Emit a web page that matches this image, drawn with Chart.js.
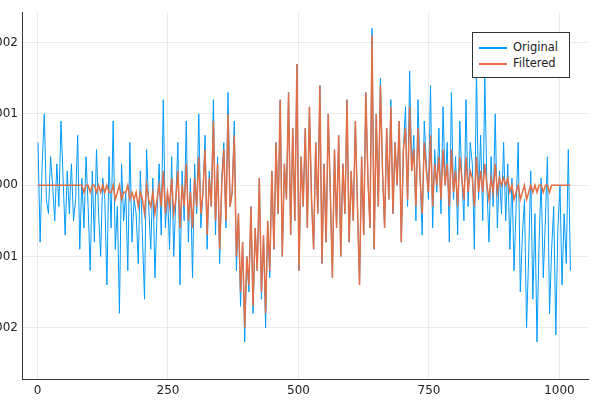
<!DOCTYPE html>
<html>
<head>
<meta charset="utf-8">
<script src="https://cdn.jsdelivr.net/npm/chart.js@4"></script>
<style>
  body { margin: 0; background: #fff; }
  #wrap { position: relative; width: 600px; height: 400px; overflow: hidden; }
  #chart { position: absolute; left: -34px; top: 0; }
  #legend { position: absolute; left: 472px; top: 32px; width: 96px; height: 44px;
    border: 1px solid #333; background: #fff; font: 11.5px "DejaVu Sans", sans-serif; color: #222; }
  #legend div { position: absolute; left: 6px; height: 14px; line-height: 14px; }
  #legend span { display: inline-block; width: 28px; height: 2px; vertical-align: middle; margin-right: 6px; }
</style>
</head>
<body>
<div id="wrap">
  <canvas id="chart" width="634" height="400"></canvas>
  <div id="legend">
    <div style="top:7px"><span style="background:#009AFA"></span>Original</div>
    <div style="top:23px"><span style="background:#E26F46"></span>Filtered</div>
  </div>
</div>
<script>
// values in units of 1e-4, one sample every 4 steps starting at 1
var original = [
  6,-8,3,10,-2,-4,4,0,-5,3,-3,9,1,-7,2,-4,
  3,-5,-2,7,-9,1,-6,4,-3,-12,2,-8,5,-4,-10,1,
  -2,-14,4,-6,9,-9,-3,-18,3,-5,-1,-12,6,-8,-2,-4,
  -11,2,-7,-16,5,-3,-9,1,-13,-4,3,-7,12,-6,-1,-9,
  4,-10,-2,6,-14,2,-5,9,-8,1,-13,3,-4,10,-6,-1,
  7,-9,2,-3,12,-7,4,-11,1,6,-6,13,-3,-1,9,-12,
  -4,-17,-8,-22,-10,-15,-3,-18,-6,-12,1,-16,-7,-20,-5,-13,
  2,-9,6,-4,12,-10,3,-2,13,-7,8,-5,17,-12,4,-3,
  8,-6,11,-2,-9,6,-4,14,-11,3,-8,10,-1,-13,5,-6,
  7,-10,3,-4,12,-8,2,-5,9,-3,-14,4,-7,13,1,-6,
  22,-9,10,-3,15,2,-6,8,-2,12,-4,6,0,9,-8,5,
  11,-3,16,2,7,-5,12,1,-7,9,3,-2,14,-6,5,-1,
  8,-4,11,0,6,-8,13,-2,4,-7,9,1,-5,12,-3,6,
  3,-9,16,-2,7,-5,15,0,-8,4,-3,10,-6,2,-4,6,
  -5,3,-9,1,-12,-3,6,-15,-7,-2,-20,-10,2,-16,-4,-22,
  -8,1,-13,-5,4,-18,-9,-3,-21,-6,0,-14,-4,-11,5,-12
];
var filtered = [
  0,0,0,0,0,0,0,0,0,0,0,0,0,0,0,0,
  0,0,0,0,0,0,-1,0,0,-1,0,0,-1,0,-1,0,
  -1,0,-1,-1,0,-2,-1,0,-2,-1,-1,0,-2,-1,-2,-1,
  -3,-1,-2,-4,0,-2,-3,-1,-4,-2,0,-3,2,-4,-1,-3,
  1,-4,-2,2,-6,0,-3,3,-5,-1,-6,1,-3,4,-4,-1,
  5,-7,1,-3,9,-5,3,-9,0,5,-5,10,-3,-1,7,-10,
  -4,-15,-8,-20,-10,-14,-3,-17,-6,-12,1,-15,-7,-18,-5,-12,
  2,-9,6,-4,12,-10,3,-2,13,-7,8,-5,17,-12,4,-3,
  8,-6,11,-2,-9,6,-4,14,-11,3,-8,10,-1,-13,5,-6,
  7,-10,3,-4,12,-8,2,-5,9,-3,-14,4,-7,13,1,-6,
  21,-9,10,-3,14,2,-6,8,-2,11,-4,6,0,9,-8,5,
  8,-2,11,2,5,-3,8,1,-4,6,2,-1,7,-3,3,0,
  4,-2,5,0,3,-3,5,-1,2,-3,4,1,-2,4,-1,2,
  1,-3,4,-1,2,-1,3,0,-2,1,-1,3,-1,1,0,1,
  0,1,-1,0,-2,-1,0,-2,-1,0,-2,-1,0,-1,0,-1,
  0,0,-1,0,0,-1,0,0,0,0,0,0,0,0,0,0
];
var xTicks = [0, 250, 500, 750, 1000];
var yTicks = [-0.002, -0.001, 0, 0.001, 0.002];

function toPoints(arr) {
  return arr.map(function (v, i) { return { x: 1 + 4 * i, y: v * 1e-4 }; });
}

var font = { family: 'DejaVu Sans', size: 12 };

new Chart(document.getElementById('chart'), {
  type: 'line',
  data: {
    datasets: [
      { label: 'Original', data: toPoints(original), borderColor: '#009AFA', borderWidth: 1, pointRadius: 0, order: 1 },
      { label: 'Filtered', data: toPoints(filtered), borderColor: '#E26F46', borderWidth: 1.5, pointRadius: 0, order: 0 }
    ]
  },
  options: {
    responsive: false,
    animation: false,
    layout: { padding: { top: 12, right: 12, left: 0, bottom: 0 } },
    plugins: { legend: { display: false }, tooltip: { enabled: false } },
    scales: {
      x: {
        type: 'linear', min: -29.7, max: 1054.7,
        grid: { color: 'rgba(0,0,0,0.08)', drawTicks: false }, border: { color: '#333' },
        ticks: { font: font, color: '#222', padding: 5, maxRotation: 0,
          callback: function (v) { return String(v); } },
        afterBuildTicks: function (s) { s.ticks = xTicks.map(function (v) { return { value: v }; }); },
        afterFit: function (s) { s.height = 21; }
      },
      y: {
        min: -0.00272, max: 0.00243,
        grid: { color: 'rgba(0,0,0,0.08)', drawTicks: false }, border: { color: '#333' },
        ticks: { font: font, color: '#222', padding: 4,
          callback: function (v) { return v.toFixed(3); } },
        afterBuildTicks: function (s) { s.ticks = yTicks.map(function (v) { return { value: v }; }); },
        afterFit: function (s) { s.width = 56; }
      }
    }
  }
});
</script>
</body>
</html>
